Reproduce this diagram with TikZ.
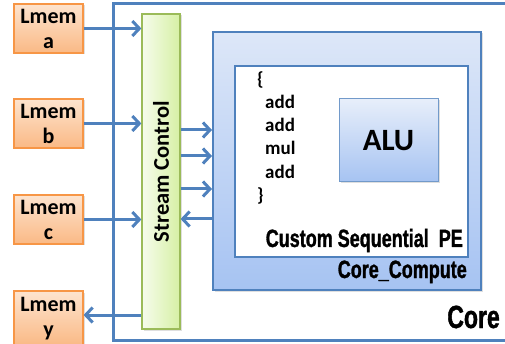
\documentclass[tikz,border=0pt]{standalone}
\usepackage{fontspec}
\setmainfont{Carlito}
\newfontfamily\agency[FakeStretch=0.72,FakeBold=1.2]{Liberation Sans Bold}
\usetikzlibrary{arrows.meta,shadows}
\definecolor{linie}{HTML}{4F81BD}
\definecolor{memrand}{HTML}{F79646}
\definecolor{memoben}{HTML}{FDE4CF}
\definecolor{memunten}{HTML}{FAB985}
\definecolor{scrand}{HTML}{9BBB59}
\definecolor{sclinks}{HTML}{F6FCEC}
\definecolor{screchts}{HTML}{D6F0A4}
\definecolor{ccoben}{HTML}{DDE7F8}
\definecolor{ccunten}{HTML}{A6C3F2}
\begin{document}
\begin{tikzpicture}[x=1pt, y=-1pt, >={Straight Barb[length=7pt,width=15pt]},
  schatten/.style={drop shadow={opacity=.25, shadow xshift=1.5pt, shadow yshift=-1.5pt}},
  mem/.style={draw=memrand, line width=1.2pt, top color=memoben, bottom color=memunten,
    minimum width=69pt, minimum height=49pt, inner sep=0pt, align=center,
    font=\fontsize{22}{25}\selectfont\bfseries, schatten},
  fluss/.style={draw=linie, line width=3pt, ->},
  rahmen/.style={draw=linie, inner sep=0pt},
  titel/.style={inner sep=0pt, font=\agency\fontsize{25}{28}\selectfont},
  ]
\useasboundingbox (0,0) rectangle (505,344);
%Core (rechts offen)
\coordinate (core) at (113,4);
\draw[linie, line width=3pt] (505,4) -- (core) |- (505,340);
\node[titel, anchor=base east, font=\agency\fontsize{32}{36}\selectfont] (coretxt) at (500,328) {Core};
%Lmem
\node[mem] (la) at (48.5,28.5) {Lmem\\a};
\node[mem] (lb) at (48.5,123.5) {Lmem\\b};
\node[mem] (lc) at (48.5,219.5) {Lmem\\c};
\node[mem, minimum height=55pt] (ly) at (48.5,318.5) {Lmem\\y};
%Stream Control
\node[draw=scrand, line width=1.2pt, left color=sclinks, right color=screchts,
  minimum width=38pt, minimum height=315pt, schatten] (sc) at (161,171.5) {};
\node[rotate=90, font=\fontsize{22.5}{26}\selectfont\bfseries] (sctxt) at (sc.center) {Stream Control};
%Core_Compute
\node[rahmen, line width=2pt, top color=ccoben, bottom color=ccunten,
  minimum width=268pt, minimum height=258pt, schatten] (cc) at (347,161) {};
\node[titel, anchor=base east] (cctxt) at (467,278) {Core\_Compute};
\node[rahmen, line width=2.5pt, fill=white, minimum width=233pt, minimum height=191pt] (pe) at (351.5,161.5) {};
\node[titel, anchor=base east] (petxt) at (463,247) {Custom Sequential\ \ PE};
\node[draw=linie!80, line width=1pt, top color=ccoben!70, bottom color=ccunten,
  minimum width=99pt, minimum height=83pt, font=\fontsize{31}{34}\selectfont\bfseries, schatten] (alu) at (388.5,140.5) {ALU};
\node[anchor=north west, inner sep=0pt, align=left, font=\fontsize{19}{23.3}\selectfont\bfseries] (code) at (257,71)
  {\{\\\hspace*{8pt}add\\\hspace*{8pt}add\\\hspace*{8pt}mul\\\hspace*{8pt}add\\\}};
%Pfeile
\draw[fluss] (la.east) -- (la.east -| sc.west);
\draw[fluss] (lb.east) -- (lb.east -| sc.west);
\draw[fluss] (lc.east) -- (lc.east -| sc.west);
\draw[fluss] (sc.west |- 0,315) -- (ly.east |- 0,315);
\foreach \yy in {130,156,189}
  \draw[fluss] (sc.east |- 0,\yy) -- (cc.west |- 0,\yy);
\draw[fluss] (cc.west |- 0,219) -- (sc.east |- 0,219);
\end{tikzpicture}
\end{document}
